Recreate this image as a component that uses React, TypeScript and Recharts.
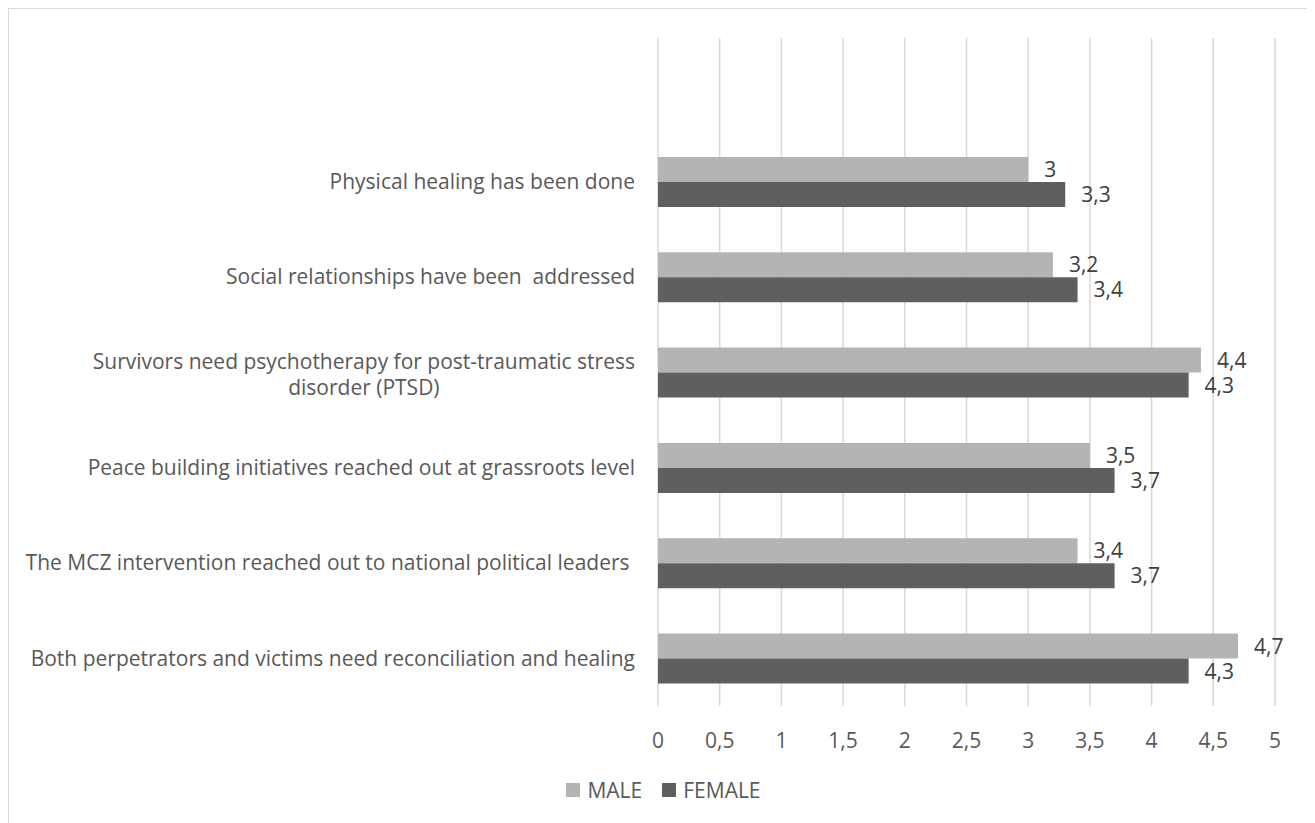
import React from "react";
import { BarChart, Bar, XAxis, YAxis, CartesianGrid, Legend, LabelList } from "recharts";

const categories = [
  "Physical healing has been done",
  "Social relationships have been  addressed",
  "Survivors need psychotherapy for post-traumatic stress\ndisorder (PTSD)",
  "Peace building initiatives reached out at grassroots level",
  "The MCZ intervention reached out to national political leaders ",
  "Both perpetrators and victims need reconciliation and healing",
];
const maleValues = [3, 3.2, 4.4, 3.5, 3.4, 4.7];
const femaleValues = [3.3, 3.4, 4.3, 3.7, 3.7, 4.3];
const xTicks = [0, 0.5, 1, 1.5, 2, 2.5, 3, 3.5, 4, 4.5, 5];
const seriesNames = ["MALE", "FEMALE"];
const seriesColors = ["#b4b4b4", "#5f5f5f"];

const data = categories.map((c, i) => ({ name: c, MALE: maleValues[i], FEMALE: femaleValues[i] }));

const FONT = "'Open Sans', sans-serif";
const FS = 21;
const TEXT = "#595959";
const LABEL = "#404040";

const fmt = (v: any) => String(v).replace(".", ",");

let ctx: CanvasRenderingContext2D | null = null;
function measure(t: string) {
  if (!ctx) ctx = document.createElement("canvas").getContext("2d");
  if (!ctx) return t.length * 10;
  ctx.font = `${FS}px 'Open Sans'`;
  return ctx.measureText(t).width;
}

const CatTick = (props: any) => {
  const { x, y, payload } = props;
  const lines: string[] = String(payload.value).split("\n");
  const endX = x - 21;
  if (lines.length === 1) {
    return (
      <text x={endX} y={y} dy="0.35em" textAnchor="end" fill={TEXT} fontSize={FS} fontFamily={FONT} style={{ whiteSpace: "pre" }}>
        {lines[0]}
      </text>
    );
  }
  const w = Math.max(...lines.map(measure));
  const cx = endX - w / 2;
  const lh = 26;
  const start = y + 2 - ((lines.length - 1) * lh) / 2;
  return (
    <text textAnchor="middle" fill={TEXT} fontSize={FS} fontFamily={FONT} style={{ whiteSpace: "pre" }}>
      {lines.map((l, i) => (
        <tspan key={i} x={cx} y={start + i * lh} dy="0.35em">{l}</tspan>
      ))}
    </text>
  );
};

const LegendContent = () => (
  <div style={{ display: "flex", justifyContent: "center", alignItems: "center", height: 24, paddingLeft: 9, fontFamily: FONT, fontSize: FS, color: TEXT }}>
    {seriesNames.map((n, i) => (
      <div key={n} style={{ display: "flex", alignItems: "center", marginLeft: i === 0 ? 0 : 20 }}>
        <span style={{ display: "inline-block", width: 14, height: 14, background: seriesColors[i], marginRight: 7 }} />
        <span style={{ lineHeight: "24px" }}>{n}</span>
      </div>
    ))}
  </div>
);

export default function App() {
  return (
    <div style={{ width: 1300, height: 830, border: "1px solid #d9d9d9", background: "#fff", fontFamily: FONT }}>
      <BarChart
        width={1300}
        height={814}
        data={data}
        layout="vertical"
        margin={{ top: 29, right: 34, bottom: 21, left: 0 }}
        barCategoryGap="24%"
        barGap={0}
      >
        <CartesianGrid horizontal={false} stroke="#d9d9d9" strokeWidth={1.5} />
        <XAxis
          type="number"
          domain={[0, 5]}
          ticks={xTicks}
          tickFormatter={fmt}
          axisLine={false}
          tickLine={false}
          tickSize={0}
          tickMargin={27}
          height={72}
          tick={{ fill: TEXT, fontSize: FS, fontFamily: FONT }}
        />
        <YAxis
          type="category"
          dataKey="name"
          width={649}
          axisLine={false}
          tickLine={false}
          tickSize={0}
          padding={{ top: 96, bottom: 0 }}
          tick={<CatTick />}
          interval={0}
        />
        <Legend
          verticalAlign="bottom"
          align="center"
          content={<LegendContent />}
          wrapperStyle={{ left: 0, width: 1300 }}
        />
        <Bar dataKey="MALE" fill={seriesColors[0]} isAnimationActive={false}>
          <LabelList dataKey="MALE" position="right" offset={16} formatter={fmt} fill={LABEL} fontSize={FS} fontFamily={FONT} />
        </Bar>
        <Bar dataKey="FEMALE" fill={seriesColors[1]} isAnimationActive={false}>
          <LabelList dataKey="FEMALE" position="right" offset={16} formatter={fmt} fill={LABEL} fontSize={FS} fontFamily={FONT} />
        </Bar>
      </BarChart>
    </div>
  );
}
